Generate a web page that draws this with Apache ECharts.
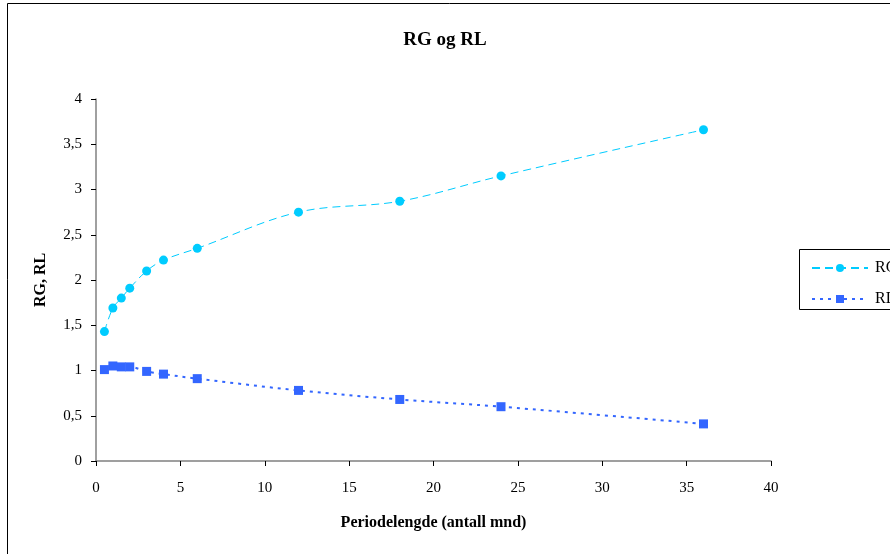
<!DOCTYPE html>
<html>
<head>
<meta charset="utf-8">
<script src="https://cdn.jsdelivr.net/npm/echarts@6/dist/echarts.min.js"></script>
<style>html,body{margin:0;padding:0;background:#fff;}#c{width:890px;height:554px;}</style>
</head>
<body>
<div id="c"></div>
<script>
var periods = [0.5, 1, 1.5, 2, 3, 4, 6, 12, 18, 24, 36];
var rgValues = [1.43, 1.69, 1.80, 1.91, 2.10, 2.22, 2.35, 2.75, 2.87, 3.15, 3.66];
var rlValues = [1.01, 1.05, 1.04, 1.04, 0.99, 0.96, 0.91, 0.78, 0.68, 0.60, 0.41];
var yTickLabels = ['0', '0,5', '1', '1,5', '2', '2,5', '3', '3,5', '4'];
var xTickLabels = ['0', '5', '10', '15', '20', '25', '30', '35', '40'];

function pairs(xs, ys) { return xs.map(function (x, i) { return [x, ys[i]]; }); }

var chart = echarts.init(document.getElementById('c'), null, {renderer: 'canvas'});
var font = '"Liberation Serif", "Times New Roman", serif';
chart.setOption({
  animation: false,
  backgroundColor: '#fff',
  textStyle: {fontFamily: font},
  title: {
    text: 'RG og RL', left: 'center', top: 26,
    textStyle: {fontFamily: font, fontSize: 19, fontWeight: 'bold', color: '#000'}
  },
  graphic: [
    {type: 'rect', shape: {x: 7.5, y: 3.5, width: 900, height: 600}, style: {fill: null, stroke: '#000', lineWidth: 1}, silent: true, z: -1},
    {type: 'rect', shape: {x: 799.5, y: 249.5, width: 100, height: 60}, style: {fill: '#fff', stroke: '#000', lineWidth: 1}, silent: true, z: 0}
  ],
  legend: {
    left: 806, top: 255, orient: 'vertical', itemGap: 15,
    itemWidth: 56, itemHeight: 10,
    textStyle: {fontFamily: font, fontSize: 16, color: '#000', padding: [0, 0, 0, 2]},
    data: ['RG', 'RL'], z: 5
  },
  grid: {left: 96, right: 119, top: 99, bottom: 93},
  xAxis: {
    type: 'value', min: 0, max: 40, interval: 5,
    name: 'Periodelengde (antall mnd)', nameLocation: 'middle', nameGap: 54,
    nameTextStyle: {fontFamily: font, fontSize: 16, fontWeight: 'bold', color: '#000'},
    axisLine: {show: true, lineStyle: {color: '#808080', width: 1.5}},
    axisTick: {show: true, length: 5, lineStyle: {color: '#000'}},
    axisLabel: {fontFamily: font, fontSize: 15, color: '#000', margin: 20,
      formatter: function (v) { return xTickLabels[Math.round(v / 5)]; }},
    splitLine: {show: false}
  },
  yAxis: {
    type: 'value', min: 0, max: 4, interval: 0.5,
    name: 'RG, RL', nameLocation: 'middle', nameGap: 47, nameRotate: 90,
    nameTextStyle: {fontFamily: font, fontSize: 16, fontWeight: 'bold', color: '#000'},
    axisLine: {show: true, lineStyle: {color: '#808080', width: 1.5}},
    axisTick: {show: true, length: 5, lineStyle: {color: '#000'}},
    axisLabel: {fontFamily: font, fontSize: 15, color: '#000', margin: 14,
      formatter: function (v) { return yTickLabels[Math.round(v / 0.5)]; }},
    splitLine: {show: false}
  },
  series: [
    {
      name: 'RG', type: 'line', smooth: 0.35, data: pairs(periods, rgValues),
      symbol: 'circle', symbolSize: 9,
      itemStyle: {color: '#00CCFF'},
      lineStyle: {color: '#00CCFF', width: 1, type: [8, 5]}
    },
    {
      name: 'RL', type: 'line', smooth: 0.35, data: pairs(periods, rlValues),
      symbol: 'rect', symbolSize: 9,
      itemStyle: {color: '#3366FF'},
      lineStyle: {color: '#3366FF', width: 2, type: [3, 5]}
    }
  ]
});
</script>
</body>
</html>
